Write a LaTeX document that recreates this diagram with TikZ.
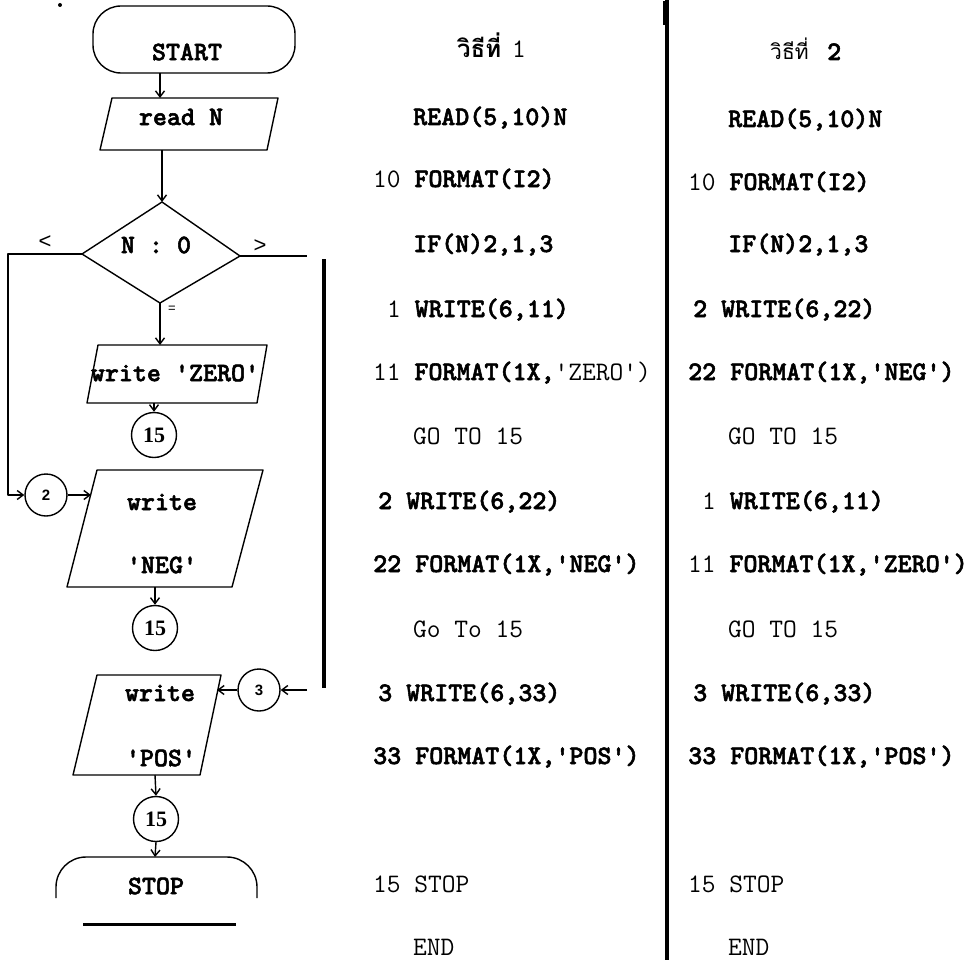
\documentclass[tikz,border=0pt]{standalone}
\usepackage{fontspec}
\newfontfamily\thaifont[Script=Thai]{Loma}
\newfontfamily\serifdig{Liberation Serif}
\newfontfamily\sansdig{Liberation Sans}
\newfontfamily\btt{lmmonolt10-bold.otf}[FakeBold=2]
\usetikzlibrary{arrows.meta}
\newcommand\cf{\fontsize{26.7}{32}\selectfont\ttfamily}
\newcommand\bb{\btt}
\begin{document}
\begin{tikzpicture}[x=1pt,y=-1pt,
  code/.style={anchor=base west,inner sep=0pt,font=\cf},
  flabel/.style={inner sep=0pt,font=\cf\bb},
  fline/.style={line width=1.4pt,line join=round},
  arr/.style={fline,-{Straight Barb[length=6pt,width=9pt]}},
  conn/.style={circle,draw,line width=1.4pt,inner sep=0pt,minimum size=45pt,font=\fontsize{22}{24}\selectfont\serifdig\bfseries},
  sconn/.style={circle,draw,line width=1.4pt,inner sep=0pt,minimum size=42pt,font=\fontsize{15}{17}\selectfont\sansdig\bfseries}]
\useasboundingbox (0,0) rectangle (973,960);
% scan dot
\fill (60,5) circle (2pt);
% ---------------- flowchart ----------------
% START
\draw[fline,rounded corners=28pt] (93,6) rectangle (295,73);
\node[flabel] (start) at (187,52) {START};
\coordinate (startb) at (160,73);
% read N
\draw[fline] (112,98) -- (278,98) -- (267,150) -- (100,150) -- cycle;
\node[flabel] (readn) at (181,117) {read N};
\coordinate (readt) at (160,98);
\coordinate (readb) at (162,150);
\draw[arr] (startb) -- (readt);
% decision
\coordinate (dt) at (162,202);
\coordinate (dr) at (240,256);
\coordinate (db) at (160,303);
\coordinate (dl) at (82,254);
\draw[fline] (dt) -- (dr) -- (db) -- (dl) -- cycle;
\node[flabel] (dec) at (156,245) {N : 0};
\draw[arr] (readb) -- (dt);
\node[inner sep=0pt,font=\fontsize{22}{24}\selectfont\sansdig] (lt) at (45,242) {<};
\node[inner sep=0pt,font=\fontsize{22}{24}\selectfont\sansdig] (gt) at (260,246) {>};
\node[inner sep=0pt,font=\fontsize{13}{15}\selectfont\sansdig] (eq) at (172,309) {=};
% write ZERO
\draw[fline] (98,345) -- (267,345) -- (257,403) -- (87,403) -- cycle;
\node[flabel] (zero) at (175,373) {write 'ZERO'};
\coordinate (zerot) at (160,345);
\coordinate (zerob) at (154,403);
\draw[arr] (db) -- (zerot);
\node[conn] (c15a) at (154,435) {15};
\draw[arr] (zerob) -- (c15a.north);
% connector 2 and write NEG
\coordinate (lcorner) at (8,254);
\coordinate (lbottom) at (8,495);
\node[sconn] (c2) at (46,495) {2};
\draw[arr] (dl) -- (lcorner) -- (lbottom) -- (c2.west);
\draw[fline] (97,470) -- (263,470) -- (232,587) -- (67,587) -- cycle;
\coordinate (negl) at (91,495);
\coordinate (negb) at (155,587);
\draw[arr] (c2.east) -- (negl);
\node[flabel] (negw) at (162,502) {write};
\node[flabel] (negt) at (162,565) {'NEG'};
\node[conn] (c15b) at (155,628) {15};
\draw[arr] (negb) -- (c15b.north);
% right branch
\coordinate (rend) at (307,256);
\draw[fline] (dr) -- (rend);
\coordinate (vtop) at (324,259);
\coordinate (vbot) at (324,688);
\draw[line width=3.5pt] (vtop) -- (vbot);
\coordinate (rin) at (307,690);
\node[sconn] (c3) at (259,690) {3};
\draw[arr] (rin) -- (c3.east);
% write POS
\draw[fline] (97,675) -- (221,675) -- (200,775) -- (73,775) -- cycle;
\coordinate (posr) at (217,690);
\coordinate (posb) at (155,775);
\draw[arr] (c3.west) -- (posr);
\node[flabel] (posw) at (160,693) {write};
\node[flabel] (post) at (161,758) {'POS'};
\node[conn] (c15c) at (156,819) {15};
\draw[arr] (posb) -- (c15c.north);
% STOP
\draw[fline,rounded corners=30pt] (56,898) -- (56,857) -- (257,857) -- (257,898);
\coordinate (stopt) at (155,857);
\draw[arr] (c15c.south) -- (stopt);
\node[flabel] (stop) at (156,886) {STOP};
\draw[line width=3pt] (83,924) -- (236,924);
% ---------------- separator ----------------
\draw[line width=4pt] (667,0) -- (667,960);
\draw[line width=3pt] (664,1) -- (664,25);
% ---------------- column 1 ----------------
\node[code,font=\fontsize{24}{28}\selectfont\thaifont\bfseries] (h1) at (457,58) {วิธีที่};
\node[code] (h1n) at (512,58) {1};
\node[code] (a1) at (413,125) {\bb READ(5,10)N};
\node[code] (a2) at (373,187) {10~\bb FORMAT(I2)};
\node[code] (a3) at (413,252) {\bb IF(N)2,1,3};
\node[code] (a4) at (387,317) {1~\bb WRITE(6,11)};
\node[code] (a5) at (373,380) {11~{\bb FORMAT(1X,}'ZERO')};
\node[code] (a6) at (413,444) {GO TO 15};
\node[code] (a7) at (378,509) {\bb 2 WRITE(6,22)};
\node[code] (a8) at (373,572) {\bb 22 FORMAT(1X,'NEG')};
\node[code] (a9) at (413,637) {Go To 15};
\node[code] (a10) at (378,701) {\bb 3 WRITE(6,33)};
\node[code] (a11) at (373,764) {\bb 33 FORMAT(1X,'POS')};
\node[code] (a12) at (373,892) {15 STOP};
\node[code] (a13) at (413,955) {END};
% ---------------- column 2 ----------------
\node[code,font=\fontsize{21}{26}\selectfont\thaifont] (h2) at (770,60) {วิธีที่};
\node[code] (h2n) at (827,60) {\bb 2};
\node[code] (b1) at (728,127) {\bb READ(5,10)N};
\node[code] (b2) at (688,190) {10~\bb FORMAT(I2)};
\node[code] (b3) at (728,252) {\bb IF(N)2,1,3};
\node[code] (b4) at (693,317) {\bb 2 WRITE(6,22)};
\node[code] (b5) at (688,380) {\bb 22 FORMAT(1X,'NEG')};
\node[code] (b6) at (728,444) {GO TO 15};
\node[code] (b7) at (702,509) {1~\bb WRITE(6,11)};
\node[code] (b8) at (688,572) {11~\bb FORMAT(1X,'ZERO')};
\node[code] (b9) at (728,637) {GO TO 15};
\node[code] (b10) at (693,701) {\bb 3 WRITE(6,33)};
\node[code] (b11) at (688,764) {\bb 33 FORMAT(1X,'POS')};
\node[code] (b12) at (688,892) {15 STOP};
\node[code] (b13) at (728,955) {END};
\end{tikzpicture}
\end{document}
